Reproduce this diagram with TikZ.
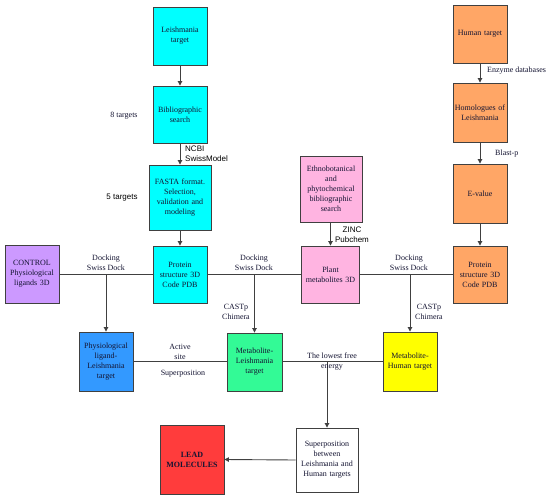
\documentclass[tikz,border=0pt]{standalone}
\usepackage{fontspec}
\setmainfont{Liberation Serif}
\setsansfont{Liberation Sans}
\usetikzlibrary{arrows.meta}
\definecolor{cCyan}{RGB}{0,255,255}
\definecolor{cOrange}{RGB}{255,166,102}
\definecolor{cPink}{RGB}{255,180,225}
\definecolor{cPurple}{RGB}{204,153,255}
\definecolor{cBlue}{RGB}{51,153,255}
\definecolor{cGreen}{RGB}{51,250,150}
\definecolor{cYellow}{RGB}{255,255,0}
\definecolor{cRed}{RGB}{255,60,60}
\definecolor{cLine}{RGB}{64,64,64}
\definecolor{cText}{RGB}{20,20,50}
\tikzset{
  box/.style={draw=cLine, line width=0.9pt, inner sep=1pt, align=center,
    text=cText, font=\fontsize{8}{10}\selectfont, minimum width=54pt, text width=52pt},
  lbl/.style={inner sep=0pt, align=center, font=\fontsize{8}{10}\selectfont, text=cText},
  slbl/.style={inner sep=0pt, font=\sffamily\fontsize{8}{10}\selectfont, text=black},
  conn/.style={draw=cLine, line width=0.9pt},
  arr/.style={conn, -{Triangle[width=4.5pt,length=4.5pt]}}
}
\begin{document}
\begin{tikzpicture}[x=1pt,y=-1pt]
\useasboundingbox[fill=white] (0,0) rectangle (550,499);
% Leishmania column
\node[box, fill=cCyan, minimum height=58pt] (lt) at (180,36) {Leishmania\\target};
\node[box, fill=cCyan, minimum height=57pt] (bs) at (180,114.5) {Bibliographic\\search};
\node[box, fill=cCyan, minimum height=65pt, minimum width=62pt, text width=60pt] (fa) at (180,197.5) {FASTA format.\\Selection,\\validation and\\modeling};
\node[box, fill=cCyan, minimum height=57pt] (ps) at (180,274.5) {Protein\\structure 3D\\Code PDB};
% control
\node[box, fill=cPurple, minimum height=58pt] (ctl) at (32,274) {CONTROL\\Physiological\\ligands 3D};
\node[box, fill=cBlue, minimum height=59pt] (pl) at (106,361.5) {Physiological\\ligand-\\Leishmania\\target};
\node[box, fill=cGreen, minimum height=58pt, minimum width=55pt] (ml) at (254.5,362) {Metabolite-\\Leishmania\\target};
\node[box, fill=cRed, minimum height=69pt, minimum width=64pt, text width=62pt, font=\bfseries\fontsize{8}{10}\selectfont] (lead) at (192,459.5) {LEAD\\MOLECULES};
% plants
\node[box, fill=cPink, minimum height=66pt, minimum width=60pt, text width=60pt] (eth) at (331,189) {Ethnobotanical\\and\\phytochemical\\bibliographic\\search};
\node[box, fill=cPink, minimum height=57pt, minimum width=55pt, text width=56pt] (plant) at (330.5,274.5) {Plant\\metabolites 3D};
\node[box, fill=cYellow, minimum height=59pt] (mh) at (410,361.5) {Metabolite-\\Human target};
\node[box, fill=white, minimum height=64pt, minimum width=60pt, text width=60pt] (sup) at (327,460) {Superposition\\between\\Leishmania and\\Human targets};
% human column
\node[box, fill=cOrange, minimum height=58pt] (ht) at (480,34) {Human target};
\node[box, fill=cOrange, minimum height=59pt] (hom) at (480,112.5) {Homologues of\\Leishmania};
\node[box, fill=cOrange, minimum height=59pt] (ev) at (480,193.5) {E-value};
\node[box, fill=cOrange, minimum height=57pt] (hpr) at (480,274.5) {Protein\\structure 3D\\Code PDB};
% junctions
\coordinate (j1) at (106,274);
\coordinate (j2) at (254.5,274);
\coordinate (j3) at (410,274);
\coordinate (j4) at (327,361.5);
% connectors
\draw[arr] (lt) -- (bs);
\draw[arr] (bs) -- (fa);
\draw[arr] (fa) -- (ps);
\draw[arr] (ht) -- (hom);
\draw[arr] (hom) -- (ev);
\draw[arr] (ev) -- (hpr);
\draw[arr] (eth.south -| plant.north) -- (plant.north);
\draw[conn] (ctl.east |- j1) -- (ps.west |- j1);
\draw[conn] (ps.east |- j2) -- (plant.west |- j2);
\draw[conn] (plant.east |- j3) -- (hpr.west |- j3);
\draw[arr] (j1) -- (pl.north);
\draw[arr] (j2) -- (ml.north);
\draw[arr] (j3) -- (mh.north);
\draw[conn] (pl.east |- j4) -- (ml.west |- j4);
\draw[conn] (ml.east |- j4) -- (mh.west |- j4);
\draw[arr] (j4) -- (sup.north);
\draw[arr] (sup.west) -- (lead.east);
% labels
\node[lbl] (l8) at (124,116) {8 targets};
\node[slbl] (l5) at (122,198) {5 targets};
\node[slbl, anchor=west, align=left] (lncbi) at (185,153.5) {NCBI\\SwissModel};
\node[slbl, align=center] (lzinc) at (352,234.5) {ZINC\\Pubchem};
\node[lbl, anchor=west] (lenz) at (487,71) {Enzyme databases};
\node[lbl, anchor=west] (lbp) at (495,154) {Blast-p};
\node[lbl] (ld1) at (106,263) {Docking\\Swiss Dock};
\node[lbl] (ld2) at (254,263) {Docking\\Swiss Dock};
\node[lbl] (ld3) at (409,263) {Docking\\Swiss Dock};
\node[lbl] (lc1) at (236,312) {CASTp\\Chimera};
\node[lbl] (lc2) at (429,312) {CASTp\\Chimera};
\node[lbl] (las) at (180,352) {Active\\site};
\node[lbl] (lsp) at (183,373.5) {Superposition};
\node[lbl] (lfe) at (332,362) {The lowest free\\energy};
\end{tikzpicture}
\end{document}
